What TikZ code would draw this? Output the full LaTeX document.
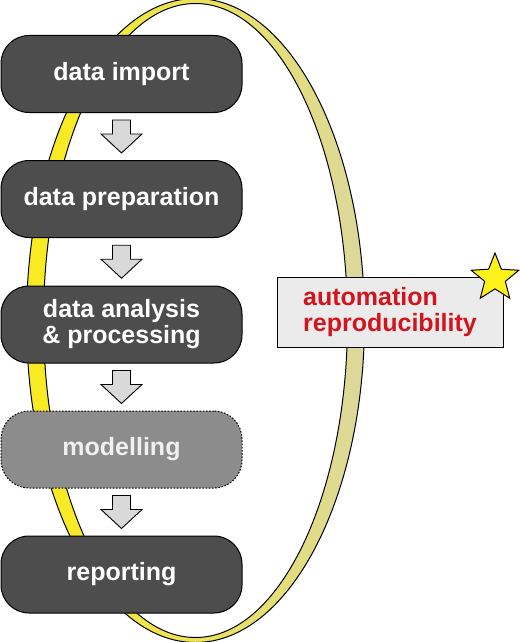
\documentclass[tikz,border=0pt]{standalone}
\usepackage{fontspec}
\setmainfont{Liberation Sans}
\usetikzlibrary{calc,shapes.geometric}

\definecolor{boxdark}{HTML}{4D4D4D}
\definecolor{boxmid}{HTML}{8C8C8C}
\definecolor{arrowgray}{HTML}{D9D9D9}
\definecolor{ringyellow}{HTML}{F8EB24}
\definecolor{ringkhaki}{HTML}{D5D3BA}
\definecolor{notegray}{HTML}{EBEBEB}
\definecolor{notered}{HTML}{D2141E}
\definecolor{staryellow}{HTML}{FFF21A}

\pgfdeclarehorizontalshading{ringshade}{100bp}{
  color(0bp)=(ringyellow); color(30bp)=(ringyellow);
  color(50bp)=(ringyellow!65!ringkhaki); color(72bp)=(ringyellow!25!ringkhaki);
  color(85bp)=(ringkhaki); color(100bp)=(ringkhaki)}

\tikzset{
  procbox/.style={rectangle, rounded corners=28pt, draw=black, line width=1pt,
    fill=boxdark, minimum width=241pt, minimum height=77pt, text=white,
    font=\fontsize{25}{26}\selectfont\bfseries, align=center},
  optbox/.style={procbox, fill=boxmid, dash pattern=on 1.6pt off 1.6pt,
    text=white!94!black},
  flowarrow/.style={draw=black, line width=0.9pt, fill=arrowgray},
  notebox/.style={rectangle, draw=black, line width=0.9pt, fill=notegray,
    minimum width=226pt, minimum height=70pt, text=notered,
    font=\fontsize{25}{26}\selectfont\bfseries, align=left}
}

\begin{document}
\begin{tikzpicture}[x=1pt, y=-1pt]
    \useasboundingbox (0,0) rectangle (519,642);

    % Loop ring behind the steps
    \begin{scope}
        \clip (0,0) rectangle (519,642);
        \path[draw=black, line width=1pt, shading=ringshade, even odd rule]
            (195.5,320.5) ellipse [x radius=169pt, y radius=322pt]
            (195.5,320.5) ellipse [x radius=152pt, y radius=317pt];
    \end{scope}

    % Workflow steps
    \node[procbox] (imp)  at (121.5,74)    {data import};
    \node[procbox] (prep) at (121.5,199)   {data preparation};
    \node[procbox] (anal) at (121.5,324.5) {data analysis\\\& processing};
    \node[optbox]  (mod)  at (121.5,449.5) {modelling};
    \node[procbox] (rep)  at (121.5,574.5) {reporting};

    % Block arrows between steps
    \foreach \a/\b in {imp/prep, prep/anal, anal/mod, mod/rep}
        \draw[flowarrow, shift={($(\a.south)!0.5!(\b.north)$)}]
            (-9,-16.5) -- (9,-16.5) -- (9,-2.5) -- (20.5,-2.5) -- (0,16.5)
            -- (-20.5,-2.5) -- (-9,-2.5) -- cycle;

    % Goals of the loop
    \node[notebox] (goal) at (390,312) {automation\\reproducibility};
    \node[star, star points=5, star point ratio=2.3, minimum size=50pt, inner sep=0pt,
        draw=black, line width=1pt, fill=staryellow] (badge) at (495,278) {};
\end{tikzpicture}
\end{document}
